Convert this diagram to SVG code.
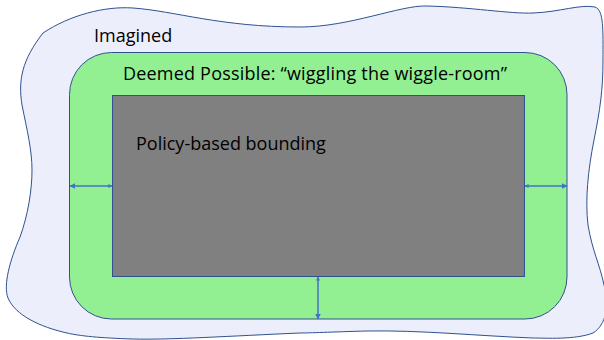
<svg xmlns="http://www.w3.org/2000/svg" width="604" height="340" viewBox="0 0 604 340">
<style>
.t{font-family:"Open Sans","Liberation Sans",sans-serif;font-size:18px;fill:#000}
.ar{stroke:#4472C4;stroke-width:1.5;fill:none}
</style>
<defs>
<marker id="big" viewBox="0 0 10 10" refX="9" refY="5" markerWidth="6" markerHeight="6" orient="auto-start-reverse" markerUnits="userSpaceOnUse">
<path d="M0,0 L10,5 L0,10 Z" fill="#4472C4"/>
</marker>
<marker id="small" viewBox="0 0 10 10" refX="9" refY="5" markerWidth="4" markerHeight="4" orient="auto-start-reverse" markerUnits="userSpaceOnUse">
<path d="M0,0 L10,5 L0,10 Z" fill="#4472C4"/>
</marker>
</defs>
<g id="imagined">
<path d="M43,33 C70,15 105,6 133,8 C175,11 220,27 300,27 C350,27 400,5 427,6 C470,7 510,14 533,13 C560,12 580,4 595,7 C604,10 603,30 603,60 C603,90 600,110 594,140 C588,170 585,200 588,225 C592,250 600,265 604,285 C610,305 606,325 593,333 C575,340 545,338 533,338 C480,336 420,330 367,331 C330,332 310,333 300,333 C230,336 170,340 133,339 C100,338 80,336 67,333 C40,327 15,315 8,298 C3,285 10,260 20,237 C28,215 32,190 32,170 C32,150 27,130 22,105 C18,80 22,60 43,33 Z" fill="#ECEEFB" stroke="#2F528F" stroke-width="1"/>
<text class="t" x="94" y="42">Imagined</text>
</g>
<g id="possible">
<rect x="69.5" y="52.5" width="497.5" height="266.5" rx="42" ry="42" fill="#92F092" stroke="#2F528F" stroke-width="1"/>
<text class="t" x="123" y="80" textLength="384" lengthAdjust="spacing">Deemed Possible: “wiggling the wiggle-room”</text>
</g>
<g id="policy">
<rect x="112.5" y="95.5" width="412" height="181" fill="#808080" stroke="#2F528F" stroke-width="1"/>
<text class="t" x="136" y="150">Policy-based bounding</text>
</g>
<g id="connectors">
<line class="ar" x1="112" y1="186" x2="70" y2="186" marker-start="url(#small)" marker-end="url(#big)"/>
<line class="ar" x1="525" y1="186" x2="567" y2="186" marker-start="url(#small)" marker-end="url(#big)"/>
<line class="ar" x1="318" y1="277" x2="318" y2="319" marker-start="url(#small)" marker-end="url(#big)"/>
</g>
</svg>
